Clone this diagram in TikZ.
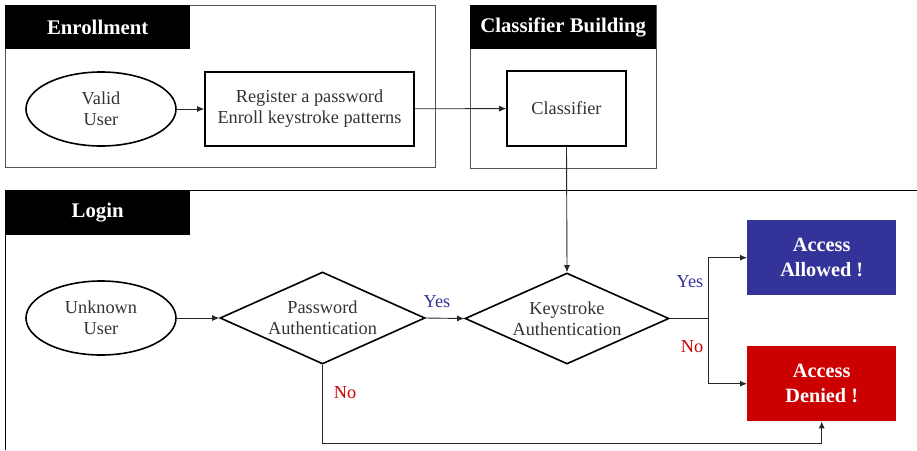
\documentclass[tikz,border=0pt]{standalone}
\usepackage{fontspec}
\setmainfont{Liberation Serif}
\usetikzlibrary{shapes.geometric,arrows.meta}
\definecolor{txt}{HTML}{333333}
\definecolor{frame}{HTML}{555555}
\definecolor{okblue}{HTML}{333399}
\definecolor{nored}{HTML}{CC0000}
\tikzset{
  header/.style={fill=black,draw=none,text=white,font=\fontsize{20.8}{22}\selectfont\bfseries,inner sep=0},
  outerbox/.style={draw=frame,line width=1pt},
  plainbox/.style={draw=black,line width=1.6pt,text=txt,font=\fontsize{18.3}{21}\selectfont,align=center,inner sep=0},
  userell/.style={ellipse,draw=black,line width=1.6pt,text=txt,font=\fontsize{18.3}{21}\selectfont,align=center,inner sep=0},
  decision/.style={diamond,draw=black,line width=1.6pt,text=txt,font=\fontsize{18.3}{21}\selectfont,align=center,inner sep=0,aspect=2.2},
  result/.style={draw=none,text=white,font=\fontsize{20.3}{25}\selectfont\bfseries,align=center,inner sep=0},
  conn/.style={draw=black!85,line width=0.9pt,-{Latex[length=7pt,width=6pt]}},
  lbl/.style={font=\fontsize{18.3}{20}\selectfont,inner sep=0}
}
\begin{document}
\begin{tikzpicture}[x=1pt,y=-1pt]
\useasboundingbox (0,0) rectangle (917,450);
% Enrollment frame
\draw[outerbox] (5,5) rectangle (435,167);
\node[header,minimum width=185,minimum height=44,anchor=north west] (henr) at (5,5) {Enrollment};
% Classifier frame
\draw[outerbox] (470,5) rectangle (656,168);
\node[header,minimum width=186,minimum height=44,anchor=north west] (hcls) at (470,5) {Classifier Building};
% Login frame
\draw[black,line width=1pt] (5,450) -- (5,190) -- (917,190);
\node[header,minimum width=185,minimum height=45,anchor=north west] (hlog) at (5,190) {Login};

% nodes
\node[userell,minimum width=150,minimum height=74] (valid) at (101,109) {Valid\\User};
\node[plainbox,minimum width=209,minimum height=74] (reg) at (309.5,109) {Register a password\\Enroll keystroke patterns};
\node[plainbox,minimum width=119,minimum height=75] (cls) at (566.5,108.5) {Classifier};

\node[userell,minimum width=150,minimum height=74] (unk) at (101,318) {Unknown\\User};
\node[decision,minimum width=205,minimum height=92] (pwd) at (322.5,318) {Password\\Authentication};
\node[decision,minimum width=204,minimum height=91] (key) at (567,318.5) {Keystroke\\Authentication};

\node[result,fill=okblue,minimum width=149,minimum height=75,anchor=north west] (allow) at (747,220) {Access\\Allowed !};
\node[result,fill=nored,minimum width=149,minimum height=75,anchor=north west] (deny) at (747,346) {Access\\Denied !};

\coordinate (jn) at (708,318.5);
\coordinate (bl) at (322.5,443);

% connectors
\draw[conn] (valid) -- (reg);
\draw[conn] (reg) -- (cls);
\draw[conn] (cls.south) -- (key.north);
\draw[conn] (unk) -- (pwd);
\draw[conn] (pwd.east) -- (key.west);
\draw[draw=black!85,line width=0.9pt] (key.east) -- (jn);
\draw[conn] (jn) |- (allow.west);
\draw[conn] (jn) |- (deny.west);
\draw[conn] (pwd.south) -- (bl) -| (deny.south);

% labels
\node[lbl,text=okblue] (y1) at (437,302) {Yes};
\node[lbl,text=okblue] (y2) at (690,282) {Yes};
\node[lbl,text=nored] (n1) at (692,347) {No};
\node[lbl,text=nored] (n2) at (345,393) {No};
\end{tikzpicture}
\end{document}
